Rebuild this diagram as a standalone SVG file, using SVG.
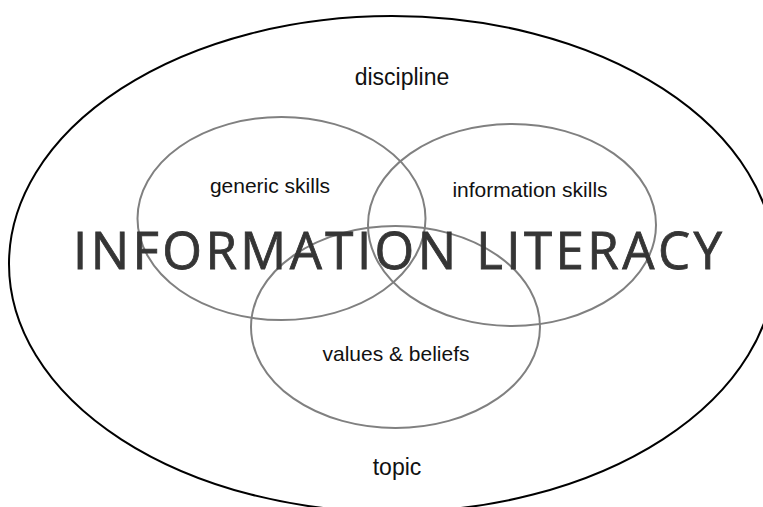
<svg xmlns="http://www.w3.org/2000/svg" width="763" height="507" viewBox="0 0 763 507">
  <style>
    .outer { fill: none; stroke: #000; stroke-width: 2; }
    .set { fill: none; stroke: #808080; stroke-width: 2; }
    .lbl { font-family: "Liberation Sans", Arial, sans-serif; font-size: 21px; fill: #111; text-anchor: middle; }
    .big { font-family: "Liberation Sans", Arial, sans-serif; font-size: 23px; fill: #111; text-anchor: middle; }
    .title { font-family: "Open Sans", "DejaVu Sans", sans-serif; font-size: 51px; fill: #353535; stroke: #353535; stroke-width: 0.8; text-anchor: middle; }
  </style>
  <rect width="763" height="507" fill="#fff"/>
  <g id="context">
    <ellipse class="outer" cx="392" cy="264" rx="383" ry="248"/>
    <text class="big" x="402" y="85">discipline</text>
    <text class="big" x="397" y="475">topic</text>
  </g>
  <g id="generic-skills">
    <ellipse class="set" cx="281.5" cy="218.5" rx="144" ry="101.5"/>
    <text class="lbl" x="270" y="193">generic skills</text>
  </g>
  <g id="information-skills">
    <ellipse class="set" cx="512" cy="225" rx="144" ry="101"/>
    <text class="lbl" x="530" y="197">information skills</text>
  </g>
  <g id="values-beliefs">
    <ellipse class="set" cx="395.5" cy="327" rx="144.5" ry="101"/>
    <text class="lbl" x="396" y="361">values &amp; beliefs</text>
  </g>
  <g id="information-literacy">
    <text class="title" x="397.5" y="269" textLength="649" lengthAdjust="spacing">INFORMATION LITERACY</text>
  </g>
</svg>
